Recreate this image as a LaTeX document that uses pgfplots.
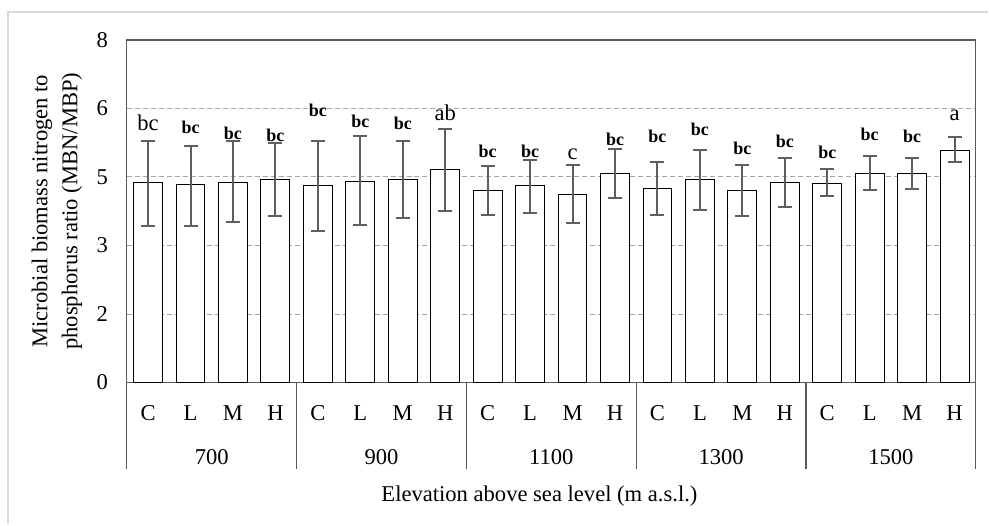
\documentclass[border=0pt]{standalone}
\usepackage{fontspec}
\setmainfont{Liberation Serif}
\usepackage{pgfplots}
\pgfplotsset{compat=1.18}

\definecolor{frame}{HTML}{595959}
\definecolor{errc}{HTML}{5F5F5F}
\definecolor{gridc}{HTML}{A6A6A6}
\definecolor{outer}{HTML}{D9D9D9}

% x = treatment position, y = mean, ep/em = upper/lower error
\pgfplotstableread{
x  y    ep   em
1  4.67 0.97 1.01
2  4.62 0.91 0.96
3  4.67 0.96 0.91
4  4.75 0.84 0.85
5  4.59 1.06 1.06
6  4.70 1.06 1.03
7  4.75 0.90 0.91
8  4.97 0.95 0.97
9  4.48 0.57 0.56
10 4.59 0.61 0.62
11 4.40 0.67 0.68
12 4.89 0.57 0.58
13 4.52 0.62 0.60
14 4.73 0.70 0.70
15 4.48 0.59 0.58
16 4.67 0.57 0.56
17 4.64 0.35 0.29
18 4.89 0.40 0.39
19 4.89 0.35 0.37
20 5.42 0.31 0.28
}\ratio

\begin{document}
\begin{tikzpicture}[
    reg/.style={font=\fontsize{11.3}{13}\selectfont, inner sep=0pt},
    bld/.style={font=\fontsize{9}{11}\selectfont\bfseries, inner sep=0pt}]
\begin{axis}[
    scale only axis,
    width=425pt, height=171.5pt,
    xmin=0.5, xmax=20.5,
    ymin=0, ymax=8,
    clip=false,
    axis line style={frame, line width=0.6pt},
    font=\fontsize{11.3}{15}\selectfont,
    /pgf/number format/assume math mode=true,
    ytick={0,1.6,3.2,4.8,6.4,8},
    yticklabels={0,2,3,5,6,8},
    ymajorgrids,
    major grid style={gridc, dash pattern=on 2.5pt off 1.5pt, line width=0.5pt},
    xtick={1,...,20},
    xticklabels={C,L,M,H,C,L,M,H,C,L,M,H,C,L,M,H,C,L,M,H},
    major tick length=0pt,
    yticklabel style={anchor=east, xshift=-6pt},
    xticklabel style={anchor=base, yshift=-19pt},
    xlabel={Elevation above sea level (m a.s.l.)},
    xlabel style={at={(axis description cs:0.486,0)}, anchor=base, yshift=-59.5pt},
    ylabel={Microbial biomass nitrogen to\\phosphorus ratio (MBN/MBP)},
    ylabel style={at={(axis description cs:-0.0824,0.5)}, anchor=center, align=center},
]
\addplot[ybar, bar width=0.68, fill=white, draw=black, line width=0.5pt,
    error bars/.cd, y dir=both, y explicit,
    error bar style={errc, line width=1pt},
    error mark options={errc, line width=1pt, mark size=3.5pt, rotate=90}]
    table[x=x, y=y, y error plus=ep, y error minus=em] {\ratio};

% group separators and elevation labels
\pgfplotsinvokeforeach{0.5,4.5,8.5,12.5,16.5,20.5}{
    \draw[frame, line width=0.6pt] (axis cs:#1,0) -- ([yshift=-43.5pt]axis cs:#1,0);
}
\node[anchor=base] at ([yshift=-41pt]axis cs:2.5,0) {700};
\node[anchor=base] at ([yshift=-41pt]axis cs:6.5,0) {900};
\node[anchor=base] at ([yshift=-41pt]axis cs:10.5,0) {1100};
\node[anchor=base] at ([yshift=-41pt]axis cs:14.5,0) {1300};
\node[anchor=base] at ([yshift=-41pt]axis cs:18.5,0) {1500};

% significance letters
\node[reg] at (axis cs:1,6.06) {bc};
\node[bld] at (axis cs:2,5.95) {bc};
\node[bld] at (axis cs:3,5.83) {bc};
\node[bld] at (axis cs:4,5.78) {bc};
\node[bld] at (axis cs:5,6.36) {bc};
\node[bld] at (axis cs:6,6.09) {bc};
\node[bld] at (axis cs:7,6.06) {bc};
\node[reg] at (axis cs:8,6.30) {ab};
\node[bld] at (axis cs:9,5.39) {bc};
\node[bld] at (axis cs:10,5.39) {bc};
\node[reg] at (axis cs:11,5.34) {c};
\node[bld] at (axis cs:12,5.68) {bc};
\node[bld] at (axis cs:13,5.76) {bc};
\node[bld] at (axis cs:14,5.92) {bc};
\node[bld] at (axis cs:15,5.47) {bc};
\node[bld] at (axis cs:16,5.64) {bc};
\node[bld] at (axis cs:17,5.37) {bc};
\node[bld] at (axis cs:18,5.80) {bc};
\node[bld] at (axis cs:19,5.74) {bc};
\node[reg] at (axis cs:20,6.23) {a};
\end{axis}
% chart area border (only left and top edges fall inside the crop)
\draw[outer, line width=1.2pt] (-59.5pt,-71pt) -- (-59.5pt,185.5pt) -- (431pt,185.5pt);
\useasboundingbox (-63.5pt,-71pt) rectangle (431pt,191.5pt);
\end{tikzpicture}
\end{document}
